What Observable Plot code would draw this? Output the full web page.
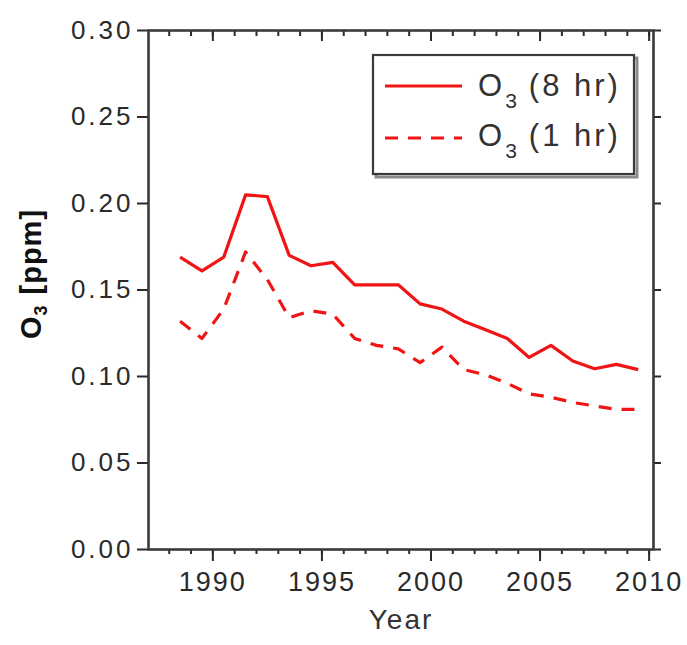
<!DOCTYPE html>
<html>
<head>
<meta charset="utf-8">
<script src="https://cdn.jsdelivr.net/npm/d3@7"></script>
<script src="https://cdn.jsdelivr.net/npm/@observablehq/plot@0.6"></script>
<style>
  html, body { margin: 0; padding: 0; background: #fff; }
  #chart svg { display: block; }
</style>
</head>
<body>
<div id="chart"></div>
<script>
// Annual ozone design values, plotted at mid-year
const years = [1988, 1989, 1990, 1991, 1992, 1993, 1994, 1995, 1996, 1997, 1998,
               1999, 2000, 2001, 2002, 2003, 2004, 2005, 2006, 2007, 2008, 2009];
const o3_8hr = [0.169, 0.161, 0.169, 0.205, 0.204, 0.170, 0.164, 0.166, 0.153, 0.153, 0.153,
                0.142, 0.139, 0.132, 0.127, 0.122, 0.111, 0.118, 0.109, 0.1045, 0.107, 0.104];
const o3_1hr = [0.132, 0.122, 0.139, 0.172, 0.156, 0.134, 0.138, 0.136, 0.122, 0.118, 0.116,
                0.108, 0.117, 0.104, 0.101, 0.096, 0.090, 0.088, 0.085, 0.083, 0.081, 0.081];

const majorYears = [1990, 1995, 2000, 2005, 2010];
const minorYears = [1988, 1989, 1990, 1991, 1992, 1993, 1994, 1995, 1996, 1997, 1998, 1999,
                    2000, 2001, 2002, 2003, 2004, 2005, 2006, 2007, 2008, 2009, 2010];
const yTicks = [0.00, 0.05, 0.10, 0.15, 0.20, 0.25, 0.30];

const red = "#f01414";
const series = [
  {key: "8 hr", values: o3_8hr, dash: null},
  {key: "1 hr", values: o3_1hr, dash: "13,10"}
];

const rows = series.flatMap(s => years.map((yr, i) => ({series: s.key, year: yr, value: s.values[i]})));

const font = "'Liberation Sans', Arial, Helvetica, sans-serif";
const axisColor = "#2a2a2a";

const chart = Plot.plot({
  width: 687,
  height: 645,
  marginLeft: 148,
  marginRight: 34,
  marginTop: 30,
  marginBottom: 96,
  style: {fontFamily: font, background: "#fff", color: axisColor},
  x: {domain: [1987.05, 2010.2]},
  y: {domain: [0, 0.30]},
  marks: [
    // bottom axis: labelled 5-year ticks and 1-year minor ticks (outward)
    Plot.axisX({anchor: "bottom", ticks: majorYears, tickSize: 12, tickPadding: 10,
                tickFormat: d => String(d), fontSize: 27, label: null,
                stroke: axisColor, strokeWidth: 2}),
    Plot.axisX({anchor: "bottom", ticks: minorYears, tickSize: 5, tickFormat: () => "",
                label: null, stroke: axisColor, strokeWidth: 2}),
    // top axis: ticks pointing into the frame
    Plot.axisX({anchor: "top", ticks: majorYears, tickSize: -10, tickFormat: () => "",
                label: null, stroke: axisColor, strokeWidth: 2}),
    Plot.axisX({anchor: "top", ticks: minorYears, tickSize: -5, tickFormat: () => "",
                label: null, stroke: axisColor, strokeWidth: 2}),
    // left and right axes
    Plot.axisY({anchor: "left", ticks: yTicks, tickSize: 11, tickPadding: 4,
                tickFormat: d3.format(".2f"), fontSize: 26, label: null,
                stroke: axisColor, strokeWidth: 2}),
    Plot.axisY({anchor: "right", ticks: yTicks, tickSize: 7, tickFormat: () => "",
                label: null, stroke: axisColor, strokeWidth: 2}),
    Plot.frame({stroke: "#3a3a3a", strokeWidth: 2.6}),
    ...series.map(s => Plot.line(rows.filter(d => d.series === s.key), {
      x: d => d.year + 0.5,
      y: "value",
      stroke: red,
      strokeWidth: 3.2,
      strokeDasharray: s.dash ?? undefined,
      strokeLinejoin: "round",
      strokeLinecap: "butt"
    })),
    Plot.text(["Year"], {frameAnchor: "bottom", dy: 79, fontSize: 28, fill: "#333",
                         text: d => d})
  ]
});

document.getElementById("chart").append(chart);

const svg = d3.select(chart);

// letter spacing on tick labels and the x title
svg.selectAll("g[aria-label='x-axis tick label'] text").style("letter-spacing", "2px");
svg.selectAll("g[aria-label='y-axis tick label'] text").style("letter-spacing", "3px");
svg.selectAll("g[aria-label='text'] text").style("letter-spacing", "2px");

// y-axis title with subscript
const yTitle = svg.append("text")
  .attr("transform", "translate(41,274) rotate(-90)")
  .attr("text-anchor", "middle")
  .attr("font-family", font)
  .attr("font-weight", "bold")
  .attr("font-size", 29)
  .attr("fill", "#111")
  .style("letter-spacing", "1px");
yTitle.append("tspan").text("O");
yTitle.append("tspan").attr("font-size", 18).attr("dy", 6).text("3");
yTitle.append("tspan").attr("dy", -6).attr("dx", 10).text("[ppm]");

// legend
const lg = svg.append("g").attr("font-family", font).attr("text-anchor", "start");
lg.append("rect").attr("x", 376).attr("y", 58).attr("width", 261).attr("height", 119)
  .attr("fill", "none").attr("stroke", "#8a8a8a").attr("stroke-width", 3);
lg.append("rect").attr("x", 373).attr("y", 55).attr("width", 261).attr("height", 119)
  .attr("fill", "#fff").attr("stroke", "#3a3a3a").attr("stroke-width", 2.2);
series.forEach((s, i) => {
  const ly = 86 + i * 52;
  lg.append("line").attr("x1", 385).attr("x2", 462).attr("y1", ly).attr("y2", ly)
    .attr("stroke", red).attr("stroke-width", 3.2)
    .attr("stroke-dasharray", s.dash ?? null);
  const t = lg.append("text").attr("x", 478).attr("y", 96 + i * 50)
    .attr("text-anchor", "start")
    .attr("font-size", 31).attr("fill", "#333").style("letter-spacing", "3px");
  t.append("tspan").text("O");
  t.append("tspan").attr("font-size", 21).attr("dy", 12).text("3");
  t.append("tspan").attr("dy", -12).attr("dx", 9).text(`(${s.key})`);
});
</script>
</body>
</html>
